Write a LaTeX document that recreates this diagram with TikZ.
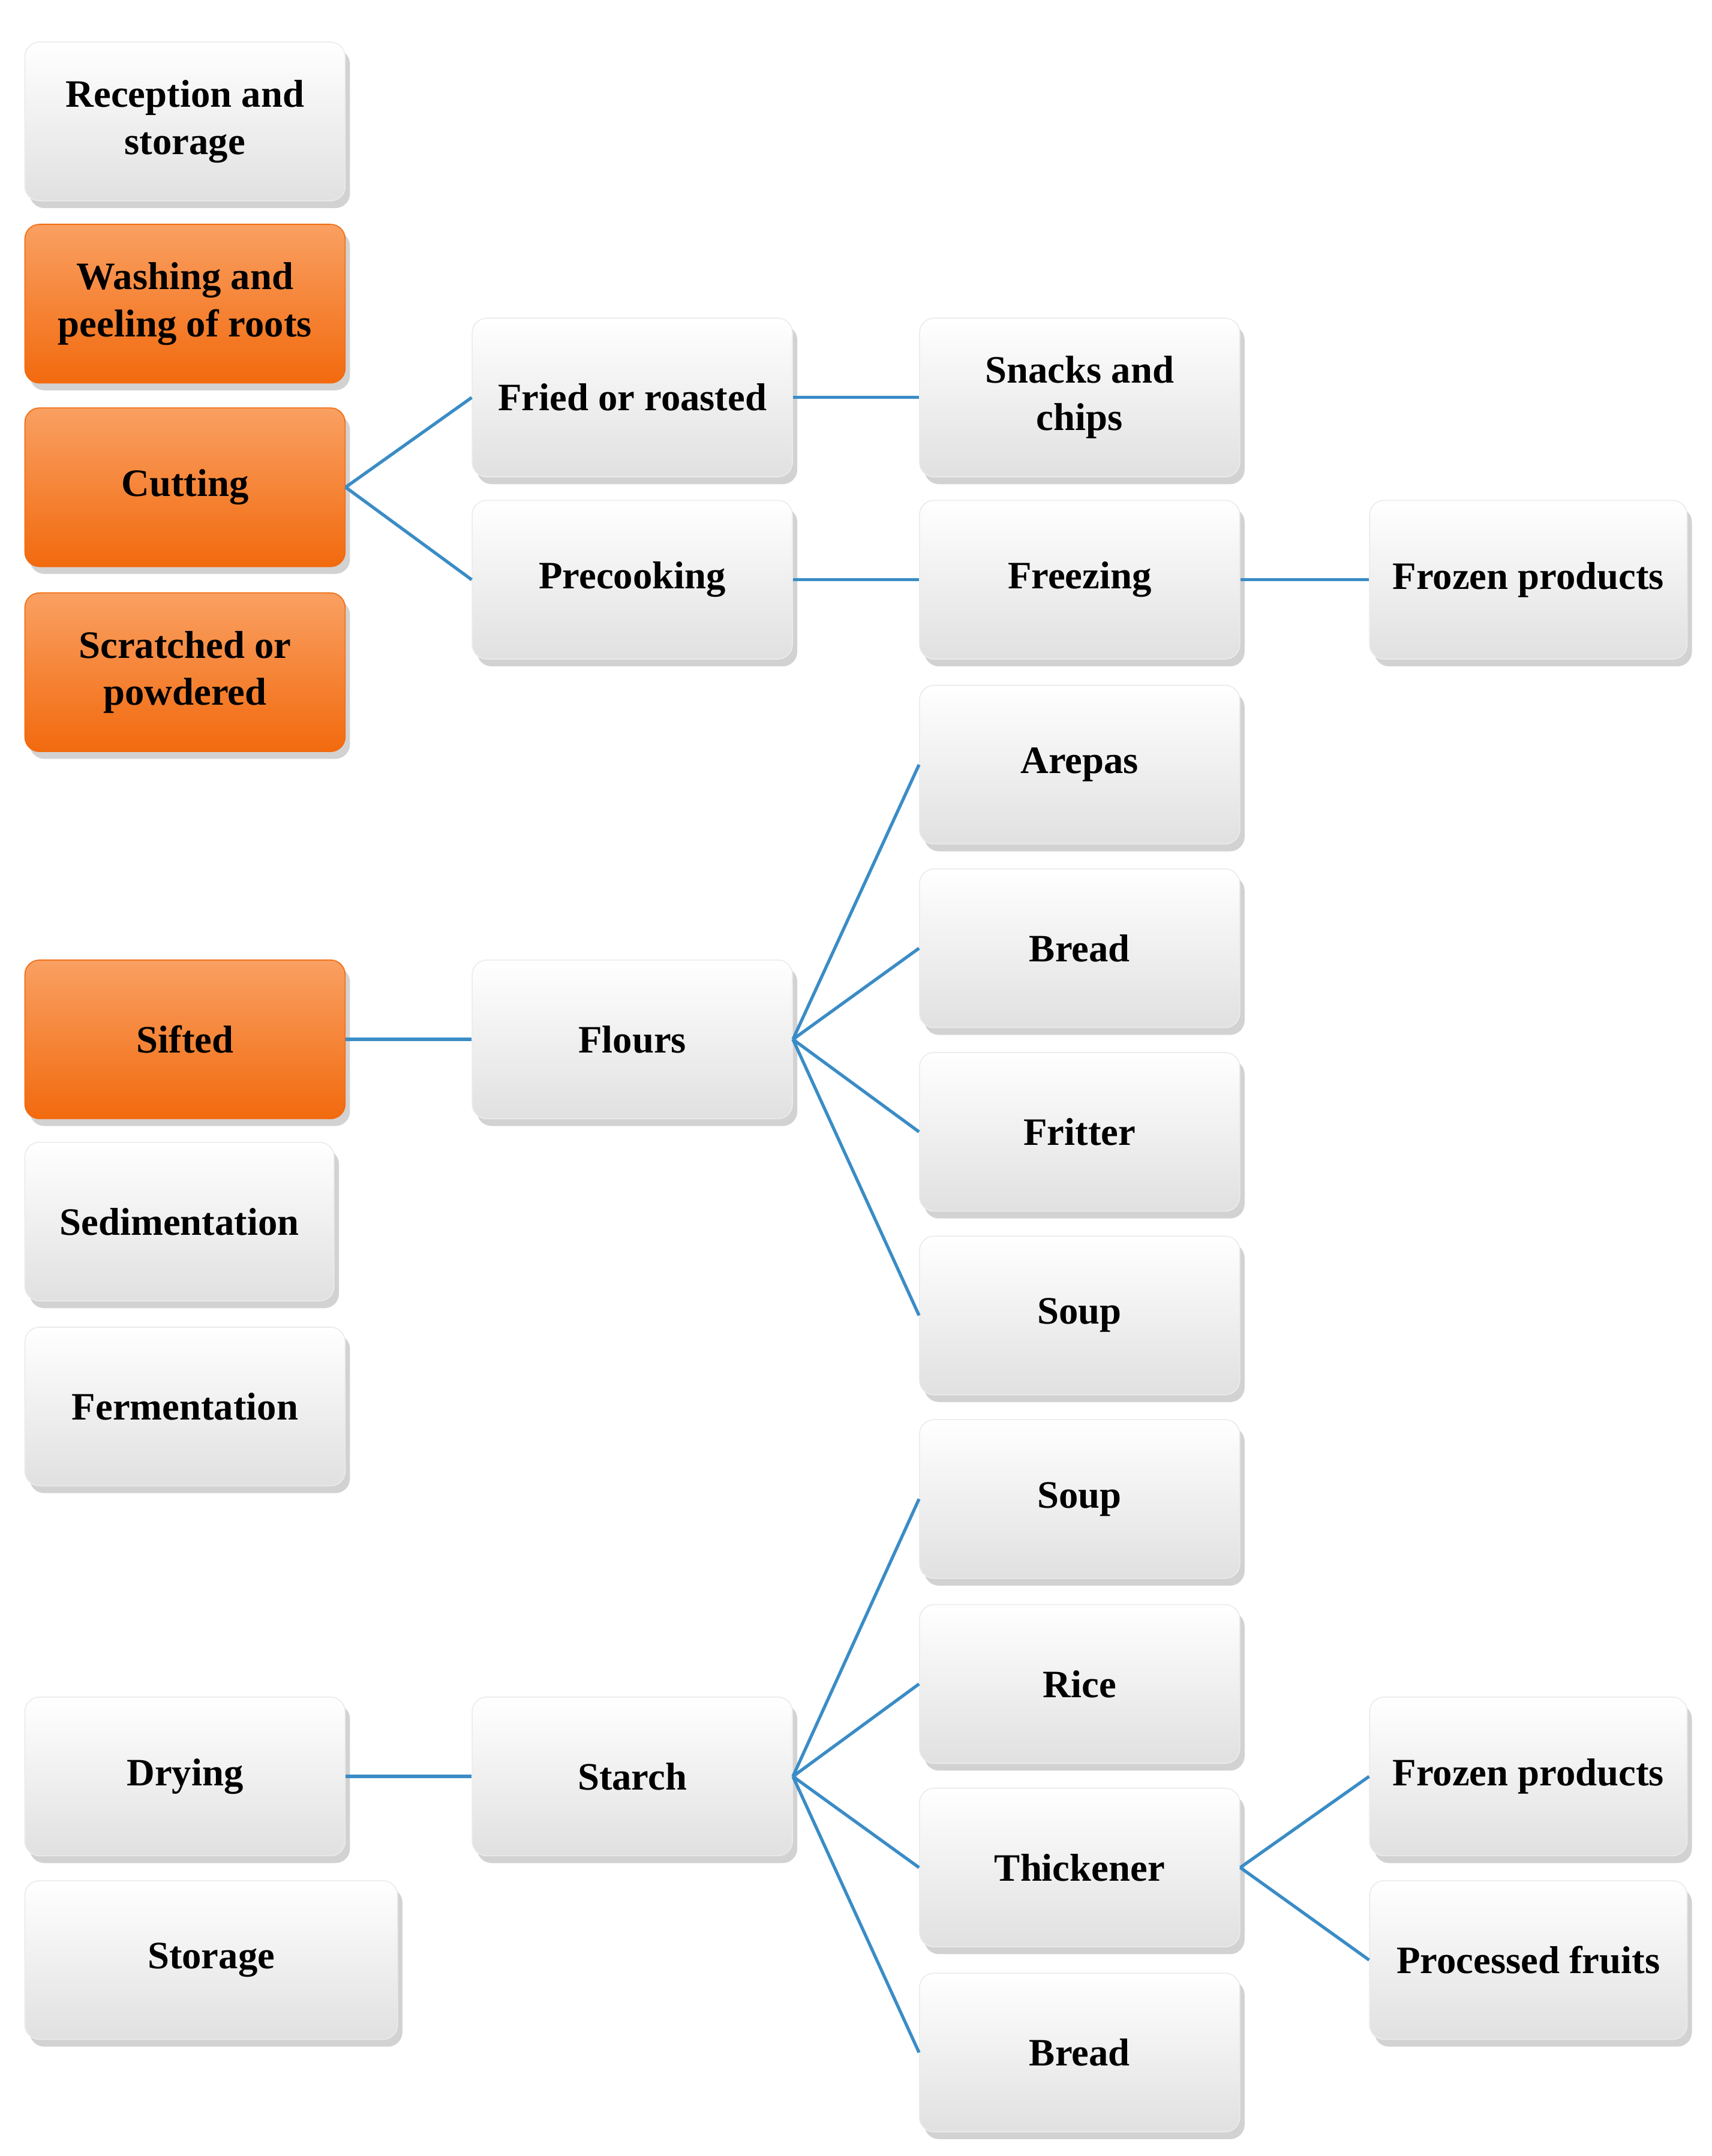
\documentclass[tikz,border=0pt]{standalone}
\usepackage{fontspec}
\setmainfont{Liberation Serif}
\usetikzlibrary{shadows}
\definecolor{lnk}{HTML}{3A8CC6}
\definecolor{orA}{HTML}{F9A062}
\definecolor{orB}{HTML}{F26A0E}
\tikzset{
  box/.style={rounded corners=6pt, minimum width=4.64cm, minimum height=2.3cm, align=center,
    font=\fontsize{16}{19.5}\selectfont\bfseries, inner sep=2pt,
    drop shadow={shadow xshift=2pt,shadow yshift=-3pt,opacity=0.35}},
  gbox/.style={box, top color=white, bottom color=black!12, draw=black!8},
  obox/.style={box, top color=orA, bottom color=orB, draw=orB},
  lk/.style={draw=lnk, line width=1.3pt}
}
\begin{document}
\begin{tikzpicture}[x=0.02cm,y=-0.02cm]
\useasboundingbox[fill=white] (0,0) rectangle (1240,1562);
\node[gbox] (rec) at (134,88) {Reception and\\storage};
\node[obox] (wash) at (134,220) {Washing and\\peeling of roots};
\node[obox] (cut) at (134,353) {Cutting};
\node[obox] (scr) at (134,487) {Scratched or\\powdered};
\node[obox] (sif) at (134,753) {Sifted};
\node[gbox, minimum width=4.48cm] (sed) at (130,885) {Sedimentation};
\node[gbox] (fer) at (134,1019) {Fermentation};
\node[gbox] (dry) at (134,1287) {Drying};
\node[gbox, minimum width=5.4cm] (sto) at (153,1420) {Storage};
\node[gbox] (fri) at (458,288) {Fried or roasted};
\node[gbox] (pre) at (458,420) {Precooking};
\node[gbox] (flo) at (458,753) {Flours};
\node[gbox] (sta) at (458,1287) {Starch};
\node[gbox] (sna) at (782,288) {Snacks and\\chips};
\node[gbox] (fre) at (782,420) {Freezing};
\node[gbox] (are) at (782,554) {Arepas};
\node[gbox] (bre) at (782,687) {Bread};
\node[gbox] (frt) at (782,820) {Fritter};
\node[gbox] (sou) at (782,953) {Soup};
\node[gbox] (sou2) at (782,1086) {Soup};
\node[gbox] (ric) at (782,1220) {Rice};
\node[gbox] (thi) at (782,1353) {Thickener};
\node[gbox] (bre2) at (782,1487) {Bread};
\node[gbox, minimum width=4.6cm] (frz) at (1107,420) {Frozen products};
\node[gbox, minimum width=4.6cm] (frz2) at (1107,1287) {Frozen products};
\node[gbox, minimum width=4.6cm] (pro) at (1107,1420) {Processed fruits};
\draw[lk] (cut.east) -- (fri.west);
\draw[lk] (cut.east) -- (pre.west);
\draw[lk] (fri) -- (sna);
\draw[lk] (pre) -- (fre);
\draw[lk] (fre) -- (frz);
\draw[lk] (sif) -- (flo);
\foreach \t in {are,bre,frt,sou} \draw[lk] (flo.east) -- (\t.west);
\draw[lk] (dry) -- (sta);
\foreach \t in {sou2,ric,thi,bre2} \draw[lk] (sta.east) -- (\t.west);
\draw[lk] (thi.east) -- (frz2.west);
\draw[lk] (thi.east) -- (pro.west);
\end{tikzpicture}
\end{document}
